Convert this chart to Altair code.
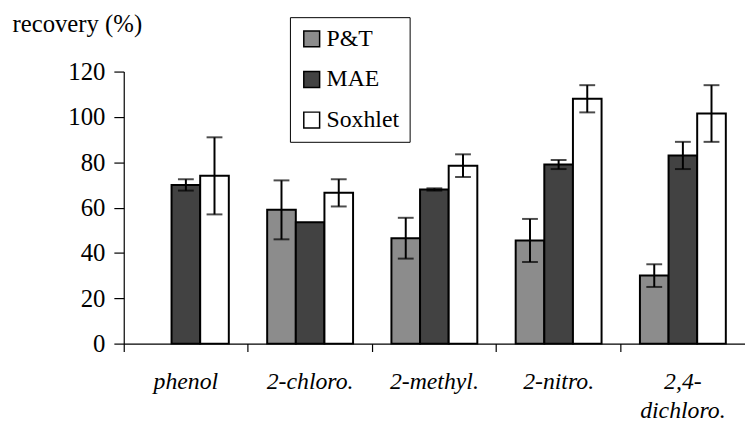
import altair as alt
import pandas as pd

compounds = ["phenol", "2-chloro.", "2-methyl.", "2-nitro.", "2,4-dichloro."]
methods = ["P&T", "MAE", "Soxhlet"]
pt_values = [0, 59, 46.5, 45.5, 30]
pt_errors = [0, 13, 9, 9.5, 5]
mae_values = [70, 53.5, 68, 79, 83]
mae_errors = [2.5, 0, 0.5, 2, 6]
sox_values = [74, 66.5, 78.5, 108, 101.5]
sox_errors = [17, 6, 5, 6, 12.5]
y_ticks = [0, 20, 40, 60, 80, 100, 120]

rows = []
for i, c in enumerate(compounds):
    for m, vals, errs in [("P&T", pt_values, pt_errors), ("MAE", mae_values, mae_errors),
                          ("Soxhlet", sox_values, sox_errors)]:
        v, e = vals[i], errs[i]
        rows.append({"compound": c, "method": m, "value": v, "lo": v - e, "hi": v + e,
                     "has_err": e > 0, "has_bar": v > 0})
df = pd.DataFrame(rows)

FONT = "Liberation Serif"

x_axis = alt.Axis(title=None, bandPosition=0, labelAngle=0,
                  labelExpr="datum.label == '2,4-dichloro.' ? ['2,4-', 'dichloro.'] : datum.label",
                  labelFont=FONT, labelFontStyle="italic", labelFontSize=24,
                  labelColor="black", labelLineHeight=30, labelBaseline="top",
                  tickSize=8, tickColor="black", tickWidth=1.2,
                  domainColor="black", domainWidth=1.2, labelPadding=18)
x_enc = alt.X("compound:N", sort=compounds,
              scale=alt.Scale(paddingInner=0, paddingOuter=0), axis=x_axis)
xo_enc = alt.XOffset("method:N", sort=methods,
                     scale=alt.Scale(paddingOuter=0.67, paddingInner=0))

color_scale = alt.Scale(domain=methods, range=["#8c8c8c", "#424242", "#ffffff"])

bars = alt.Chart(df).transform_filter("datum.has_bar").mark_bar(
    stroke="black", strokeWidth=2
).encode(
    x=x_enc,
    xOffset=xo_enc,
    y=alt.Y("value:Q", scale=alt.Scale(domain=[0, 120], nice=False),
            axis=alt.Axis(values=y_ticks, grid=False, title="recovery (%)",
                          titleAngle=0, titleX=-113, titleY=-48, titleAlign="left",
                          titleBaseline="middle", titleFont=FONT, titleFontSize=25,
                          titleFontWeight="normal", titleColor="black",
                          labelFont=FONT, labelFontSize=25, labelColor="black",
                          tickSize=10, tickColor="black", tickWidth=1.2,
                          domainColor="black", domainWidth=1.2, labelPadding=9)),
    color=alt.Color("method:N", scale=color_scale, sort=methods,
                    legend=alt.Legend(title=None, orient="none", legendX=168, legendY=-55,
                                      padding=10, strokeColor="black",
                                      symbolType="square", symbolSize=256,
                                      symbolStrokeColor="black", symbolStrokeWidth=1.5,
                                      symbolOpacity=1,
                                      labelFont=FONT, labelFontSize=24, labelColor="black",
                                      rowPadding=17, labelOffset=3)),
)

err_base = alt.Chart(df).transform_filter("datum.has_err")
xe = alt.X("compound:N", sort=compounds, axis=x_axis)
xoe = alt.XOffset("method:N", sort=methods)
rules = err_base.mark_rule(color="black", strokeWidth=2).encode(
    x=xe, xOffset=xoe, y="lo:Q", y2="hi:Q")
caps_hi = err_base.mark_tick(color="black", thickness=2, size=16).encode(
    x=xe, xOffset=xoe, y="hi:Q")
caps_lo = err_base.mark_tick(color="black", thickness=2, size=16).encode(
    x=xe, xOffset=xoe, y="lo:Q")

chart = alt.layer(bars, rules, caps_hi, caps_lo).properties(
    width=628, height=275,
    background="white",
    autosize=alt.AutoSizeParams(type="none"),
    padding={"left": 117, "top": 62, "right": 0, "bottom": 80},
).configure_view(stroke="transparent", strokeWidth=0).configure_axis(grid=False)

chart.save("out.html", embed_options={"renderer": "svg", "actions": False})
